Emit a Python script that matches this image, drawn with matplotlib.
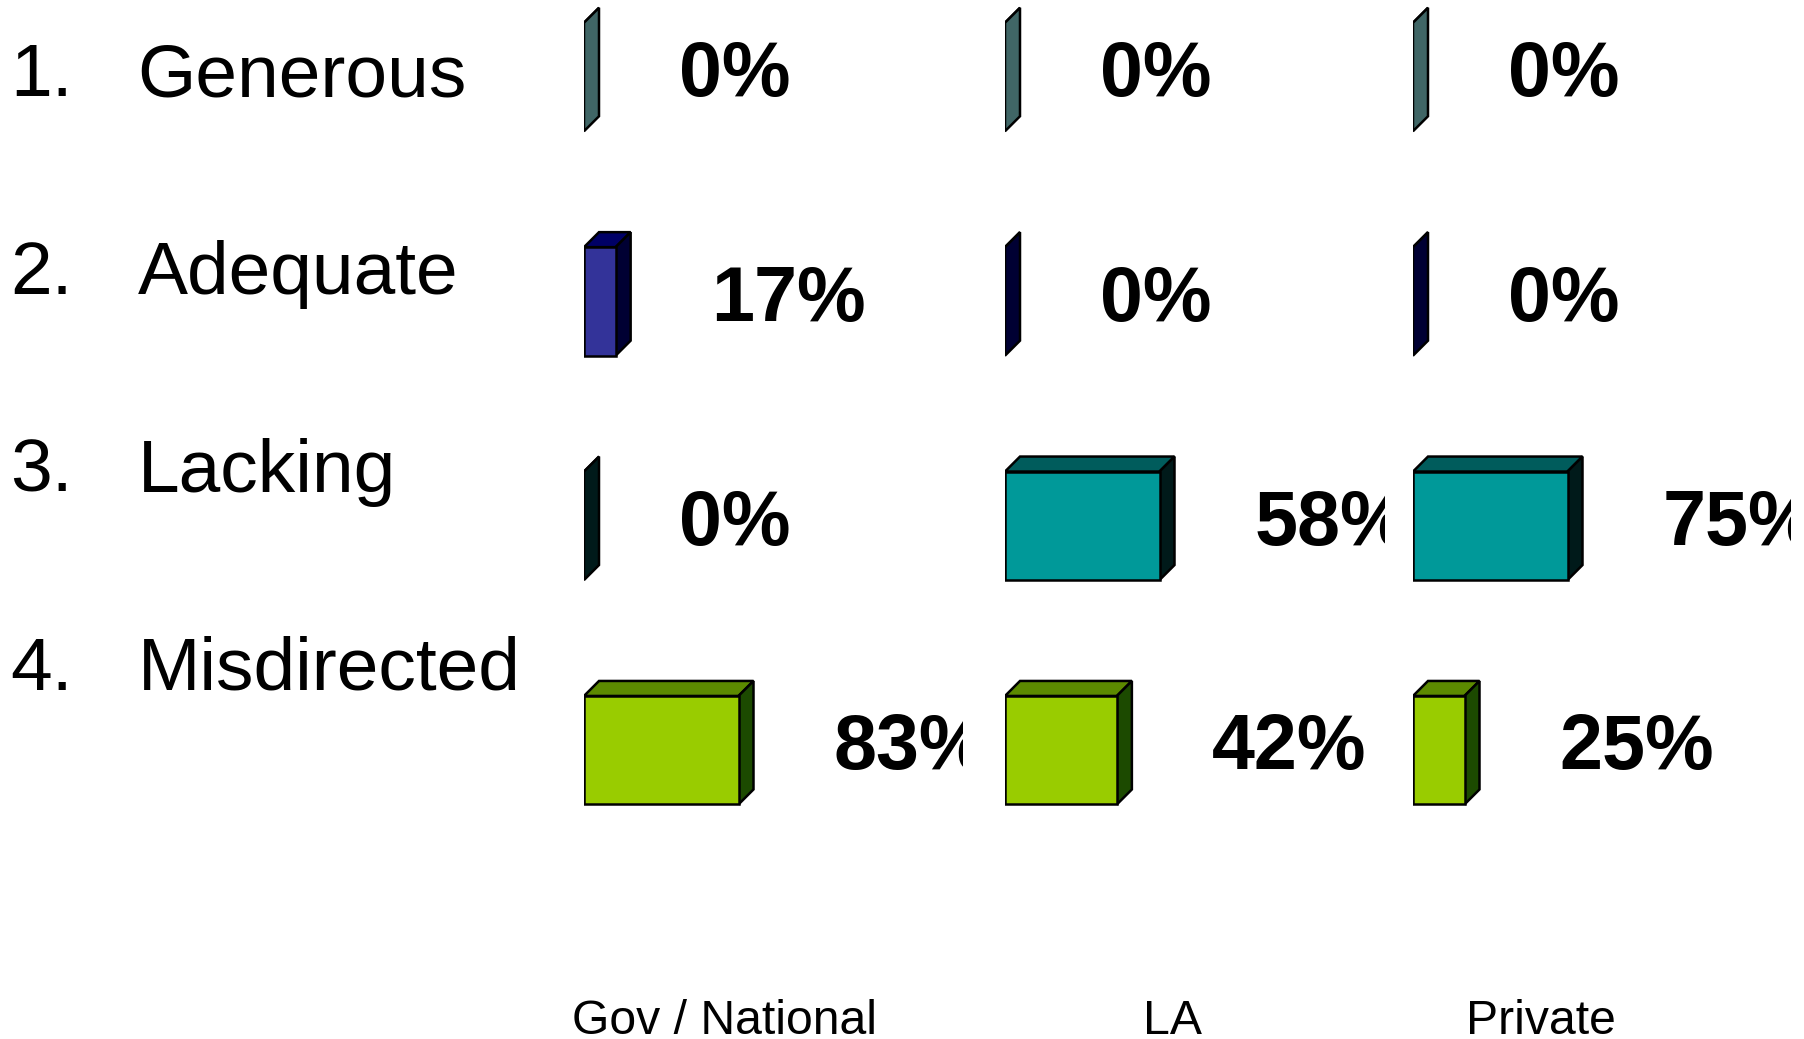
import matplotlib
matplotlib.use('Agg')
import matplotlib.pyplot as plt
from matplotlib.patches import Polygon

plt.rcParams['font.family'] = ['Liberation Sans', 'DejaVu Sans']

W, H = 1804, 1039

numbers = ['1.', '2.', '3.', '4.']
categories = ['Generous', 'Adequate', 'Lacking', 'Misdirected']
groups = ['Gov / National', 'LA', 'Private']
gov_values = [0, 17, 0, 83]
la_values = [0, 0, 58, 42]
private_values = [0, 0, 75, 25]

front_colors = ['#669999', '#333399', '#009999', '#99CC00']
top_colors = ['#3D5C5C', '#000066', '#005C5C', '#5C8A00']
side_colors = ['#406666', '#000033', '#001A1A', '#1C4A00']

fig = plt.figure(figsize=(W / 100, H / 100), dpi=100, facecolor='white')


def draw_panel(values, left, right, label, label_center):
    ax = fig.add_axes([left / W, 0, (right - left) / W, 1])
    ax.axis('off')
    # every panel is scaled so that its largest bar is 155 px wide
    px_per_pct = 154.5 / max(values)
    ax.set_xlim(0, (right - left) / px_per_pct)
    row_px = 224.4
    ax.set_ylim((H - 77) / row_px, -77 / row_px)
    depth_x = 15 / px_per_pct
    depth_y = 15 / row_px
    bar_h = 108.5 / row_px
    lw = 1.8

    for i, v in enumerate(values):
        top = i - bar_h / 2
        bottom = i + bar_h / 2
        ax.add_patch(Polygon([(0, top), (depth_x, top - depth_y), (v + depth_x, top - depth_y), (v, top)],
                             facecolor=top_colors[i], edgecolor='black', lw=lw, joinstyle='miter'))
        ax.add_patch(Polygon([(v, top), (v + depth_x, top - depth_y), (v + depth_x, bottom - depth_y), (v, bottom)],
                             facecolor=side_colors[i], edgecolor='black', lw=lw, joinstyle='miter'))
        if v > 0:
            ax.barh(i, v, height=bar_h, color=front_colors[i], edgecolor='black', linewidth=lw)
        ax.text(v + 95 / px_per_pct, bottom - 35 / row_px, f'{v}%', fontsize=55.6, fontweight='bold',
                ha='left', va='baseline', color='black', clip_on=True)
    fig.text(label_center / W, 1 - 1034 / H, label, fontsize=34.7,
             ha='center', va='baseline', color='black')


draw_panel(gov_values, 584, 963, groups[0], 724)
draw_panel(la_values, 1005, 1385, groups[1], 1172.5)
draw_panel(private_values, 1413, 1791, groups[2], 1541)

for i in range(len(categories)):
    base = 96.5 + 197.7 * i
    fig.text(10 / W, 1 - base / H, numbers[i], fontsize=54, ha='left', va='baseline', color='black')
    fig.text(137.5 / W, 1 - base / H, categories[i], fontsize=54, ha='left', va='baseline', color='black')

fig.savefig('out.png', dpi=100)
